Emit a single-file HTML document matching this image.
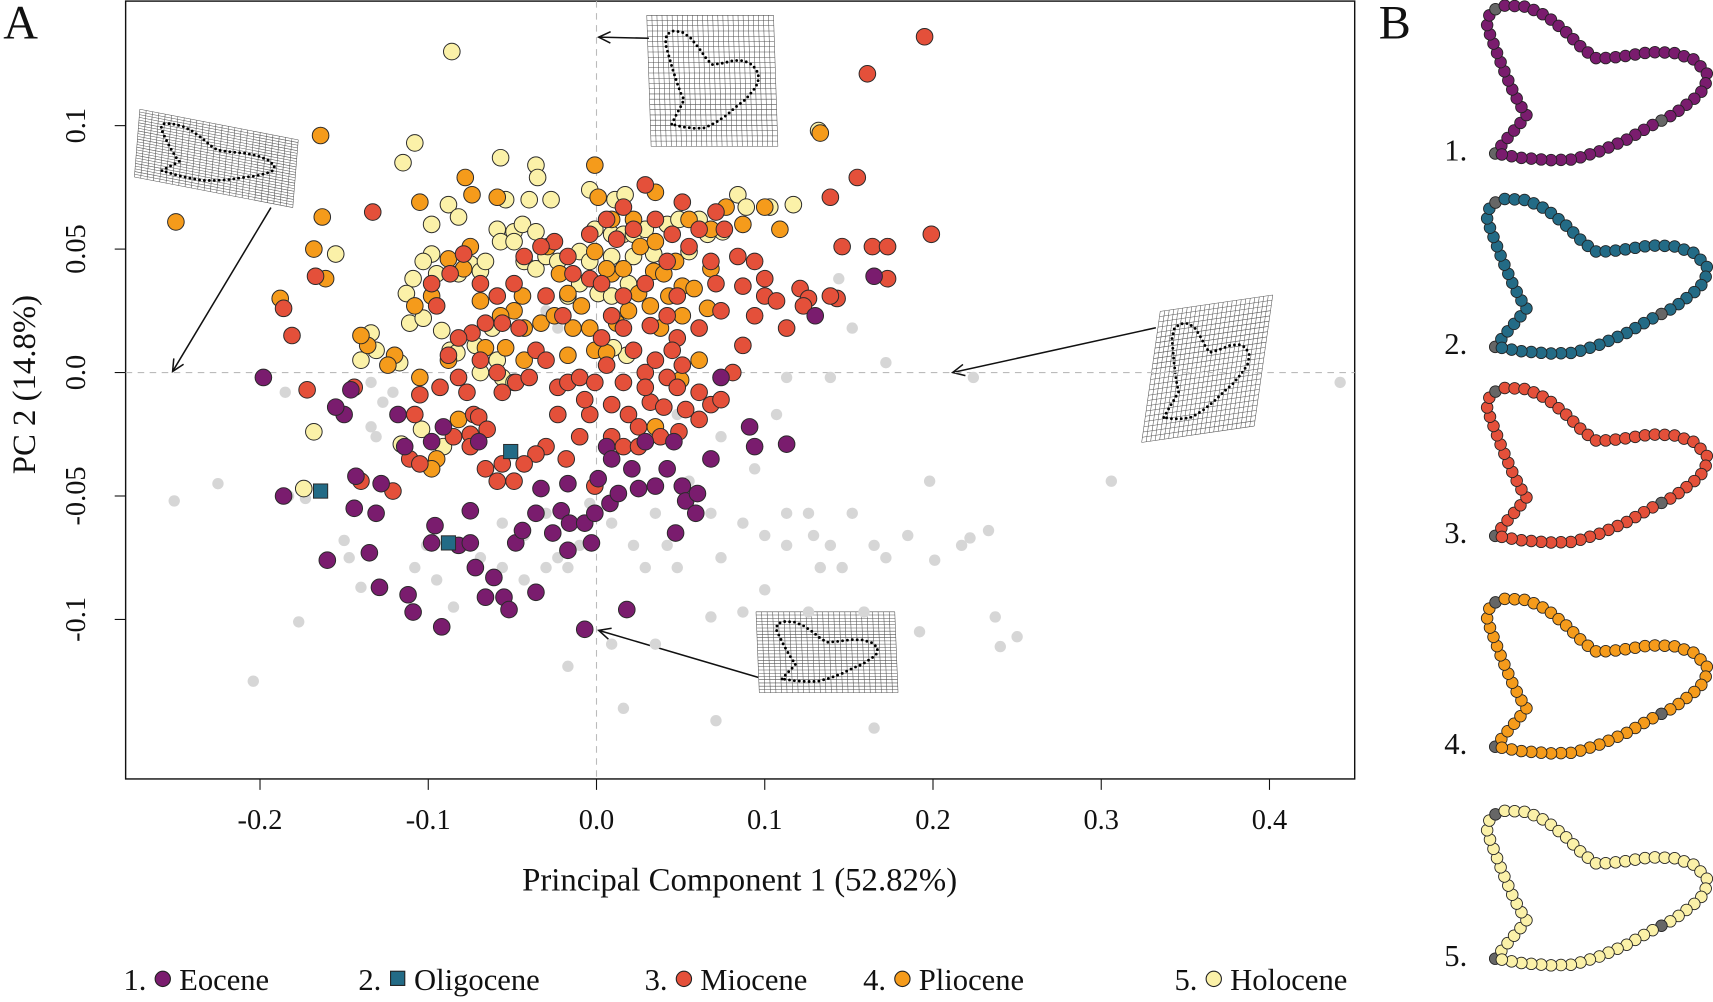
<!DOCTYPE html>
<html><head><meta charset="utf-8"><style>
html,body{margin:0;padding:0;background:#fff;width:1713px;height:996px;overflow:hidden}
#wrap{position:absolute;left:0;top:0;width:1568px;height:912px;transform:scale(1.0925);transform-origin:0 0}
svg text{font-family:"Liberation Serif",serif;fill:#111}
</style></head><body>
<div id="wrap">
<svg id="chart" width="1568" height="912" xmlns="http://www.w3.org/2000/svg">
<g id="gridInsets"></g>
<g id="plot"></g>
<g id="panelB"></g>
</svg>
</div>
<script>
const eocene = [[-0.198,-0.002],[-0.160,-0.076],[-0.186,-0.050],[-0.129,-0.087],[-0.144,-0.055],[-0.143,-0.042],[-0.128,-0.045],[-0.146,-0.007],[-0.150,-0.017],[-0.135,-0.073],[-0.112,-0.090],[-0.109,-0.097],[-0.092,-0.103],[-0.098,-0.069],[-0.096,-0.062],[-0.082,-0.070],[-0.075,-0.056],[-0.075,-0.069],[-0.072,-0.079],[-0.070,-0.028],[-0.066,-0.091],[-0.061,-0.083],[-0.055,-0.091],[-0.052,-0.096],[-0.036,-0.089],[-0.048,-0.069],[-0.044,-0.064],[-0.036,-0.057],[-0.033,-0.047],[-0.026,-0.065],[-0.017,-0.072],[-0.021,-0.056],[-0.016,-0.061],[-0.017,-0.045],[-0.007,-0.061],[-0.003,-0.069],[-0.001,-0.057],[0.001,-0.043],[0.006,-0.030],[0.008,-0.053],[0.013,-0.049],[0.021,-0.039],[0.025,-0.047],[0.029,-0.028],[0.035,-0.046],[0.042,-0.039],[0.047,-0.065],[0.046,-0.028],[0.051,-0.046],[0.053,-0.052],[0.059,-0.057],[0.060,-0.049],[0.068,-0.035],[0.074,-0.002],[0.091,-0.022],[0.094,-0.030],[0.113,-0.029],[0.130,0.023],[0.165,0.039],[-0.007,-0.104],[-0.091,-0.022],[-0.114,-0.030],[-0.098,-0.028],[-0.118,-0.017],[-0.155,-0.014],[-0.131,-0.057],[0.009,-0.035],[0.018,-0.096]];
const oligocene = [[-0.164,-0.048],[-0.088,-0.069],[-0.051,-0.032]];
const miocene = [[0.195,0.136],[0.161,0.121],[-0.186,0.026],[-0.181,0.015],[-0.133,0.065],[-0.167,0.039],[-0.144,-0.006],[-0.172,-0.007],[-0.108,-0.017],[-0.105,-0.009],[-0.093,-0.006],[-0.077,-0.008],[-0.073,-0.017],[-0.085,-0.026],[-0.075,-0.025],[-0.070,-0.018],[-0.065,-0.023],[-0.056,-0.008],[-0.048,-0.004],[-0.040,-0.002],[-0.036,0.009],[-0.030,0.005],[-0.023,-0.006],[-0.017,-0.004],[-0.010,-0.002],[-0.001,-0.004],[0.003,0.014],[0.009,0.023],[0.016,0.018],[0.022,0.009],[0.029,0.000],[0.035,0.005],[0.042,-0.002],[0.048,-0.006],[0.053,-0.015],[0.061,-0.019],[0.068,-0.013],[0.074,-0.011],[0.009,-0.013],[0.019,-0.017],[0.025,-0.022],[0.032,-0.012],[0.040,-0.014],[-0.004,-0.017],[-0.010,-0.026],[-0.018,-0.035],[-0.030,-0.030],[-0.036,-0.033],[-0.043,-0.037],[-0.049,-0.044],[-0.059,-0.044],[-0.066,-0.039],[0.009,-0.026],[0.016,-0.030],[-0.001,-0.046],[0.025,-0.030],[0.038,-0.026],[0.049,-0.024],[0.061,-0.008],[0.081,0.000],[0.087,0.011],[0.094,0.023],[0.100,0.031],[0.107,0.029],[0.113,0.018],[0.121,0.034],[0.139,0.071],[0.146,0.051],[0.155,0.079],[0.164,0.051],[0.173,0.051],[0.173,0.038],[0.199,0.056],[0.143,0.030],[0.126,0.030],[0.123,0.027],[0.139,0.031],[0.029,0.076],[0.016,0.067],[0.022,0.058],[0.006,0.062],[-0.004,0.056],[-0.017,0.047],[-0.025,0.053],[-0.033,0.051],[-0.043,0.047],[-0.049,0.036],[-0.059,0.031],[-0.066,0.020],[-0.074,0.016],[-0.082,0.014],[-0.088,0.007],[-0.095,0.027],[-0.098,0.036],[-0.087,0.040],[-0.079,0.048],[-0.069,0.036],[-0.056,0.020],[-0.046,0.018],[-0.030,0.031],[-0.020,0.023],[-0.014,0.040],[-0.004,0.038],[0.003,0.036],[0.016,0.031],[0.029,0.036],[0.042,0.045],[0.055,0.051],[0.061,0.058],[0.071,0.065],[0.076,0.058],[0.084,0.047],[0.094,0.045],[0.100,0.038],[0.051,0.069],[0.035,0.062],[0.045,0.056],[0.068,0.045],[0.071,0.036],[0.074,0.025],[0.061,0.018],[0.048,0.014],[0.042,0.023],[0.032,0.019],[0.045,0.009],[0.051,0.003],[-0.069,0.005],[-0.059,0.000],[-0.082,-0.002],[0.048,0.031],[0.087,0.035],[0.012,0.054],[-0.140,-0.044],[-0.121,-0.048],[-0.111,-0.035],[-0.105,-0.037],[-0.056,-0.037],[-0.075,-0.030],[-0.023,-0.017],[-0.007,-0.011],[0.006,0.003],[0.016,-0.004],[0.029,-0.006]];
const pliocene = [[-0.250,0.061],[-0.164,0.096],[-0.163,0.063],[-0.168,0.050],[-0.188,0.030],[-0.161,0.038],[-0.105,0.069],[-0.074,0.072],[-0.059,0.071],[-0.078,0.079],[-0.001,0.084],[0.001,0.071],[0.009,0.062],[-0.029,0.051],[-0.022,0.040],[-0.044,0.031],[-0.049,0.025],[-0.057,0.023],[-0.069,0.029],[-0.079,0.042],[-0.075,0.051],[-0.088,0.046],[-0.098,0.031],[-0.108,0.027],[-0.120,0.007],[-0.136,0.011],[-0.140,0.015],[-0.124,0.003],[-0.105,-0.002],[-0.088,0.005],[-0.066,0.010],[-0.054,0.010],[-0.043,0.018],[-0.033,0.020],[-0.025,0.023],[-0.017,0.032],[-0.009,0.027],[-0.004,0.018],[-0.001,0.009],[0.006,0.008],[0.012,0.020],[0.019,0.025],[0.025,0.032],[0.034,0.041],[0.040,0.040],[0.047,0.045],[0.051,0.035],[0.058,0.034],[0.066,0.026],[0.032,0.027],[0.038,0.018],[0.051,0.023],[0.043,0.031],[0.009,0.040],[0.016,0.042],[-0.001,0.049],[0.026,0.051],[0.022,0.062],[0.035,0.053],[0.055,0.062],[0.068,0.058],[0.077,0.067],[0.087,0.060],[0.100,0.067],[0.109,0.058],[0.068,0.042],[0.035,0.073],[-0.043,0.005],[-0.095,-0.035],[-0.098,-0.039],[-0.082,-0.019],[0.029,-0.028],[0.035,-0.022],[0.050,-0.003],[0.061,0.005],[0.133,0.097],[0.006,0.042],[-0.017,0.007],[-0.014,0.018]];
const holocene = [[-0.086,0.130],[0.132,0.098],[-0.108,0.093],[-0.115,0.085],[-0.057,0.087],[-0.036,0.084],[-0.035,0.079],[-0.054,0.070],[-0.040,0.070],[-0.027,0.070],[-0.004,0.074],[0.011,0.070],[0.017,0.072],[-0.088,0.068],[-0.082,0.063],[-0.059,0.058],[-0.049,0.057],[-0.044,0.060],[-0.036,0.057],[-0.098,0.060],[-0.098,0.048],[-0.103,0.045],[-0.109,0.038],[-0.113,0.032],[-0.095,0.040],[-0.082,0.040],[-0.075,0.044],[-0.069,0.041],[-0.066,0.045],[-0.057,0.053],[-0.049,0.053],[-0.043,0.045],[-0.036,0.042],[-0.030,0.047],[-0.023,0.045],[-0.010,0.049],[-0.001,0.058],[0.009,0.056],[0.016,0.056],[0.022,0.056],[0.029,0.058],[0.042,0.060],[0.049,0.062],[0.061,0.062],[0.066,0.056],[0.075,0.057],[0.084,0.072],[0.089,0.067],[0.103,0.067],[0.117,0.068],[-0.155,0.048],[-0.134,0.016],[-0.131,0.009],[-0.117,0.004],[-0.140,0.005],[-0.111,0.020],[-0.103,0.022],[-0.092,0.017],[-0.087,0.009],[-0.083,0.008],[-0.072,0.011],[-0.059,0.005],[-0.056,-0.002],[-0.049,-0.004],[-0.062,0.018],[-0.069,0.000],[-0.017,0.031],[-0.010,0.036],[0.001,0.032],[0.009,0.031],[0.019,0.036],[-0.004,0.045],[0.009,0.047],[0.022,0.047],[0.018,0.007],[0.010,0.010],[-0.116,-0.029],[-0.104,-0.023],[-0.091,-0.030],[-0.168,-0.024],[-0.174,-0.047],[0.034,0.048],[0.055,0.049]];
const gray = [[-0.251,-0.052],[-0.225,-0.045],[-0.204,-0.125],[-0.177,-0.101],[-0.183,-0.050],[-0.173,-0.051],[-0.150,-0.068],[-0.147,-0.075],[-0.140,-0.087],[-0.131,-0.026],[-0.127,-0.012],[-0.134,-0.022],[-0.108,-0.079],[-0.101,-0.070],[-0.095,-0.084],[-0.085,-0.095],[-0.069,-0.075],[-0.056,-0.079],[-0.043,-0.084],[-0.030,-0.079],[-0.023,-0.075],[-0.010,-0.070],[0.009,-0.061],[0.022,-0.070],[0.029,-0.079],[0.042,-0.070],[0.048,-0.079],[0.061,-0.050],[0.068,-0.057],[0.074,-0.075],[0.087,-0.061],[0.100,-0.066],[0.113,-0.070],[0.126,-0.057],[0.129,-0.066],[0.133,-0.079],[0.139,-0.070],[0.152,-0.057],[0.165,-0.070],[0.172,-0.075],[0.185,-0.066],[0.201,-0.076],[0.222,-0.067],[0.233,-0.064],[0.237,-0.099],[0.250,-0.107],[0.240,-0.111],[0.192,-0.105],[0.165,-0.144],[0.126,-0.097],[0.100,-0.088],[0.087,-0.097],[0.071,-0.141],[0.068,-0.099],[0.035,-0.110],[0.016,-0.136],[0.094,-0.039],[0.074,-0.026],[0.107,-0.017],[0.113,-0.002],[0.139,-0.002],[0.172,0.004],[0.224,-0.002],[0.306,-0.044],[0.442,-0.004],[0.048,-0.017],[0.009,-0.110],[-0.017,-0.119],[-0.043,-0.066],[-0.056,-0.061],[-0.030,-0.057],[-0.004,-0.053],[0.035,-0.057],[0.055,-0.044],[0.113,-0.057],[0.146,-0.079],[0.159,-0.097],[-0.134,-0.004],[-0.121,-0.008],[-0.185,-0.008],[-0.017,-0.079],[0.198,-0.044],[0.217,-0.070],[0.144,0.038],[0.152,0.018],[-0.030,0.025],[-0.023,0.018],[-0.110,0.039]];
const xTicks = [-0.2,-0.1,0.0,0.1,0.2,0.3,0.4];
const xTickLabels = ["-0.2","-0.1","0.0","0.1","0.2","0.3","0.4"];
const yTicks = [-0.1,-0.05,0.0,0.05,0.1];
const yTickLabels = ["-0.1","-0.05","0.0","0.05","0.1"];
const legendLabels = ["Eocene","Oligocene","Miocene","Pliocene","Holocene"];

const NS="http://www.w3.org/2000/svg";
function mk(tag,attrs,parent){const e=document.createElementNS(NS,tag);for(const k in attrs)e.setAttribute(k,attrs[k]);parent.appendChild(e);return e;}
const X0=115,X1=1240,Y0=1,Y1=713;
function xs(v){return 546+1540*v;}
function ys(v){return 341-2260*v;}
const plot=document.getElementById('plot');
const colors={eo:"#7a1c6e",ol:"#236b86",mi:"#e4503a",pl:"#f59b1b",ho:"#fbf1a8"};

let fr=mk('rect',{x:X0,y:Y0,width:X1-X0,height:Y1-Y0,fill:'none',stroke:'#111','stroke-width':1.3},plot);


let gv=mk('line',{x1:xs(0),x2:xs(0),y1:Y0,y2:Y1,stroke:'#bbb','stroke-dasharray':'6 5'},plot);


let gh=mk('line',{x1:X0,x2:X1,y1:ys(0),y2:ys(0),stroke:'#bbb','stroke-dasharray':'6 5'},plot);



xTicks.forEach((t,i)=>{
  const tk=mk('line',{x1:xs(t),x2:xs(t),y1:Y1,y2:Y1+10,stroke:'#111'},plot);
  
  
  const tl=mk('text',{x:xs(t),y:Y1+46,'text-anchor':'middle','font-size':26},plot);
  tl.textContent=xTickLabels[i];
  
  
});
yTicks.forEach((t,i)=>{
  const tk=mk('line',{x1:X0-10,x2:X0,y1:ys(t),y2:ys(t),stroke:'#111'},plot);
  
  
  const tl=mk('text',{x:0,y:0,'text-anchor':'middle','font-size':26,transform:`translate(${X0-37},${ys(t)}) rotate(-90)`},plot);
  tl.textContent=yTickLabels[i];
  
  
});
let xt=mk('text',{x:677,y:815,'text-anchor':'middle','font-size':30},plot);
xt.textContent="Principal Component 1 (52.82%)";


let yt=mk('text',{x:0,y:0,'text-anchor':'middle','font-size':30,transform:'translate(32,352) rotate(-90)'},plot);
yt.textContent="PC 2 (14.8%)";


let pa=mk('text',{x:3,y:35,'font-size':44},plot);pa.textContent="A";


let pb=mk('text',{x:1262,y:35,'font-size':44},plot);pb.textContent="B";



gray.forEach(p=>{
  const c=mk('circle',{cx:xs(p[0]),cy:ys(p[1]),r:5.2,fill:'#d6d6d6'},plot);
  
  
});
function drawC(arr,col,name){arr.forEach(p=>{
  const c=mk('circle',{cx:xs(p[0]),cy:ys(p[1]),r:7.6,fill:col,stroke:'#2a2a2a','stroke-width':0.9},plot);
  
  
});}
drawC(holocene,colors.ho,'point-holocene');
drawC(pliocene,colors.pl,'point-pliocene');
drawC(miocene,colors.mi,'point-miocene');
drawC(eocene,colors.eo,'point-eocene');
oligocene.forEach(p=>{
  const s=mk('rect',{x:xs(p[0])-6.5,y:ys(p[1])-6.5,width:13,height:13,fill:colors.ol,stroke:'#2a2a2a','stroke-width':0.9},plot);
  
  
});

const legX=[113,328,590,790,1075];
const legCols=[colors.eo,colors.ol,colors.mi,colors.pl,colors.ho];
legendLabels.forEach((lab,i)=>{
  const g=mk('g',{},plot);
  
  
  const n=mk('text',{x:legX[i],y:906,'font-size':28},g);n.textContent=(i+1)+".";
  const cx=legX[i]+36;
  if(i===1){mk('rect',{x:cx-6.5,y:889,width:13,height:13,fill:legCols[i],stroke:'#222'},g);}
  else mk('circle',{cx:cx,cy:896,r:7,fill:legCols[i],stroke:'#222'},g);
  const t=mk('text',{x:cx+15,y:906,'font-size':28},g);t.textContent=lab;
});

const shp=[[25,444],[60,400],[95,360],[120,327],[100,300],[75,250],[45,180],[20,115],[0,62],[10,17],[55,0],[120,4],[180,32],[240,82],[290,132],[330,160],[400,154],[490,140],[560,142],[620,162],[660,202],[655,247],[620,282],[560,327],[490,362],[420,402],[340,437],[260,462],[190,464],[100,457],[45,447]];
const gi=document.getElementById('gridInsets');
function inset(m,name){
  const g=mk('g',{transform:`matrix(${m.join(',')})`},gi);
  
  
  mk('rect',{x:0,y:0,width:100,height:100,fill:'#fff'},g);
  for(let i=0;i<=25;i++){const v=i*4;
    mk('line',{x1:v,x2:v,y1:0,y2:100,stroke:'#555','stroke-width':0.5,'vector-effect':'non-scaling-stroke'},g);
    mk('line',{x1:0,x2:100,y1:v,y2:v,stroke:'#555','stroke-width':0.5,'vector-effect':'non-scaling-stroke'},g);}
  const d='M'+shp.map(p=>[(14+p[0]*0.11).toFixed(1),(12+p[1]*0.16).toFixed(1)].join(',')).join(' L')+' Z';
  mk('path',{d:d,fill:'none',stroke:'#000','stroke-width':2.6,'stroke-dasharray':'0 4.5','stroke-linecap':'round','vector-effect':'non-scaling-stroke'},g);
}
inset([1.16,0,0.04,1.2,592,14],'grid-inset-top');
inset([1.45,0.28,-0.05,0.62,128,100],'grid-inset-left');
inset([1.03,-0.15,-0.17,1.2,1062,285],'grid-inset-right');
inset([1.27,0,0.03,0.74,692,560],'grid-inset-bottom');
function arrow(x1,y1,x2,y2,name){
  const g=mk('g',{},gi);
  
  
  mk('line',{x1,y1,x2,y2,stroke:'#111','stroke-width':1.4},g);
  const a=Math.atan2(y2-y1,x2-x1),L=12;
  mk('polyline',{points:`${x2-L*Math.cos(a-0.45)},${y2-L*Math.sin(a-0.45)} ${x2},${y2} ${x2-L*Math.cos(a+0.45)},${y2-L*Math.sin(a+0.45)}`,fill:'none',stroke:'#111','stroke-width':1.4},g);
}
arrow(248,190,158,340,'arrow-left');
arrow(594,35,548,34,'arrow-top');
arrow(1058,300,872,341,'arrow-right');
arrow(694,620,548,577,'arrow-bottom');

const pB=document.getElementById('panelB');
const bTops=[5,182,355,548,742];
const bCols=[colors.eo,colors.ol,colors.mi,colors.pl,colors.ho];
const sc=1/3.2775;
bTops.forEach((top,k)=>{
  const g=mk('g',{},pB);
  
  
  const d='M'+shp.map(p=>[(1361+p[0]*sc).toFixed(1),(top+p[1]*sc).toFixed(1)].join(',')).join(' L');
  const path=mk('path',{d:d,fill:'none',stroke:'none'},g);
  const len=path.getTotalLength(),N=66;
  for(let i=0;i<N;i++){const pt=path.getPointAtLength(len*i/(N-1));
    const grayLm=(i===0||i===17||i===48);
    mk('circle',{cx:pt.x,cy:pt.y,r:5.3,fill:grayLm?'#666':bCols[k],stroke:'#222','stroke-width':0.8},g);}
  const t=mk('text',{x:1322,y:top+142,'font-size':28},g);t.textContent=(k+1)+".";
});
</script>
</body></html>
